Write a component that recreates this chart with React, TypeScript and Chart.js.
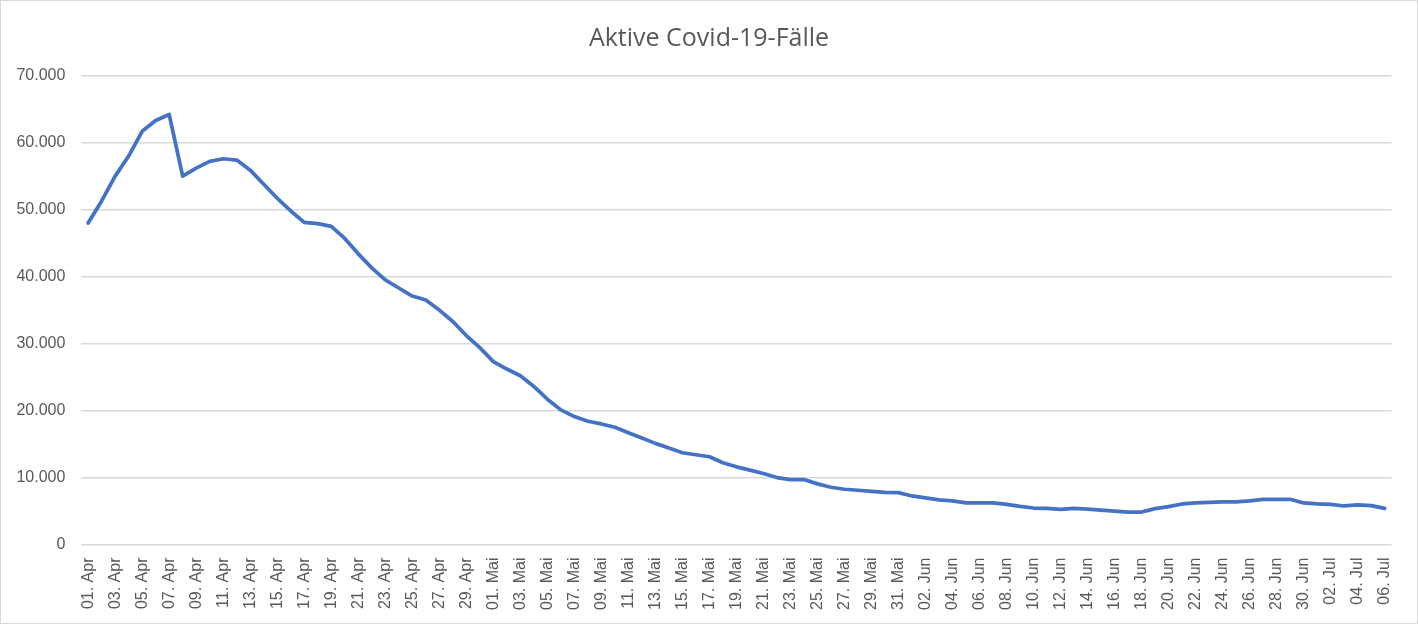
import React, { useEffect, useRef } from "react";
import { Chart, registerables } from "chart.js";

Chart.register(...registerables);

const TITLE = "Aktive Covid-19-Fälle";

const categories = [
  "01. Apr", "02. Apr", "03. Apr", "04. Apr", "05. Apr", "06. Apr", "07. Apr", "08. Apr", "09. Apr", "10. Apr",
  "11. Apr", "12. Apr", "13. Apr", "14. Apr", "15. Apr", "16. Apr", "17. Apr", "18. Apr", "19. Apr", "20. Apr",
  "21. Apr", "22. Apr", "23. Apr", "24. Apr", "25. Apr", "26. Apr", "27. Apr", "28. Apr", "29. Apr", "30. Apr",
  "01. Mai", "02. Mai", "03. Mai", "04. Mai", "05. Mai", "06. Mai", "07. Mai", "08. Mai", "09. Mai", "10. Mai",
  "11. Mai", "12. Mai", "13. Mai", "14. Mai", "15. Mai", "16. Mai", "17. Mai", "18. Mai", "19. Mai", "20. Mai",
  "21. Mai", "22. Mai", "23. Mai", "24. Mai", "25. Mai", "26. Mai", "27. Mai", "28. Mai", "29. Mai", "30. Mai",
  "31. Mai", "01. Jun", "02. Jun", "03. Jun", "04. Jun", "05. Jun", "06. Jun", "07. Jun", "08. Jun", "09. Jun",
  "10. Jun", "11. Jun", "12. Jun", "13. Jun", "14. Jun", "15. Jun", "16. Jun", "17. Jun", "18. Jun", "19. Jun",
  "20. Jun", "21. Jun", "22. Jun", "23. Jun", "24. Jun", "25. Jun", "26. Jun", "27. Jun", "28. Jun", "29. Jun",
  "30. Jun", "01. Jul", "02. Jul", "03. Jul", "04. Jul", "05. Jul", "06. Jul",
];

const activeCases = [
  48000, 51300, 55000, 58000, 61700, 63300, 64200, 55000, 56200, 57200,
  57600, 57400, 55900, 53800, 51700, 49800, 48100, 47900, 47500, 45700,
  43400, 41300, 39500, 38300, 37100, 36500, 35000, 33300, 31200, 29400,
  27300, 26200, 25200, 23600, 21700, 20100, 19100, 18400, 18000, 17500,
  16700, 15900, 15100, 14400, 13700, 13400, 13100, 12200, 11600, 11100,
  10600, 10000, 9700, 9700, 9050, 8550, 8250, 8100, 7950, 7800,
  7750, 7250, 6950, 6650, 6500, 6200, 6200, 6200, 6000, 5700,
  5450, 5400, 5250, 5400, 5300, 5150, 4980, 4850, 4850, 5350,
  5650, 6050, 6200, 6300, 6350, 6350, 6500, 6750, 6750, 6750,
  6200, 6050, 6000, 5750, 5900, 5800, 5400,
];

const Y_MIN = 0;
const Y_MAX = 70000;
const Y_STEP = 10000;

const formatThousands = (v: number) =>
  String(Math.round(v)).replace(/\B(?=(\d{3})+(?!\d))/g, ".");

export default function App() {
  const canvasRef = useRef<HTMLCanvasElement | null>(null);

  useEffect(() => {
    if (!canvasRef.current) return;
    const chart = new Chart(canvasRef.current, {
      type: "line",
      data: {
        labels: categories,
        datasets: [
          {
            label: TITLE,
            data: activeCases,
            borderColor: "#4472C4",
            backgroundColor: "#4472C4",
            borderWidth: 3.75,
            pointRadius: 0,
            pointHoverRadius: 0,
            tension: 0,
            borderJoinStyle: "round",
            borderCapStyle: "round",
            fill: false,
            yAxisID: "y",
          },
        ],
      },
      options: {
        animation: false,
        responsive: false,
        maintainAspectRatio: false,
        layout: { padding: { left: 0, right: 0, top: 0, bottom: 0 } },
        plugins: {
          legend: { display: false },
          tooltip: { enabled: false },
          title: {
            display: true,
            text: TITLE,
            color: "#595959",
            font: { family: "'Open Sans'", size: 25, weight: "normal" },
            padding: { top: 23, bottom: 21.7 },
          },
        },
        scales: {
          x: {
            type: "category",
            offset: true,
            grid: { display: false, drawTicks: false },
            border: { display: false },
            ticks: {
              autoSkip: false,
              minRotation: 90,
              maxRotation: 90,
              padding: 13,
              color: "#595959",
              font: { family: "'Liberation Sans'", size: 16 },
              callback: (_v: any, i: number) => (i % 2 === 0 ? categories[i] : ""),
            },
            afterFit: (scale: any) => {
              scale.height = 78.5;
            },
          },
          y: {
            min: Y_MIN,
            max: Y_MAX,
            grid: { color: "#d9d9d9", lineWidth: 1.5, drawTicks: false },
            border: { display: false },
            ticks: {
              stepSize: Y_STEP,
              padding: 16,
              color: "#595959",
              font: { family: "'Liberation Sans'", size: 16 },
              callback: (v: any) => formatThousands(Number(v)),
            },
            afterFit: (scale: any) => {
              scale.width = 80.4;
            },
          },
          ySpacer: {
            type: "linear",
            position: "right",
            min: Y_MIN,
            max: Y_MAX,
            grid: { display: false, drawTicks: false },
            border: { display: false },
            ticks: { display: false },
            afterFit: (scale: any) => {
              scale.width = 21;
            },
          },
        },
      },
    });
    return () => chart.destroy();
  }, []);

  return (
    <div
      style={{
        position: "absolute",
        left: 0,
        top: 0,
        width: 1418,
        height: 624,
        boxSizing: "border-box",
        border: "1px solid #d9d9d9",
        background: "#ffffff",
      }}
    >
      <canvas ref={canvasRef} width={1416} height={622} style={{ display: "block" }} />
    </div>
  );
}
